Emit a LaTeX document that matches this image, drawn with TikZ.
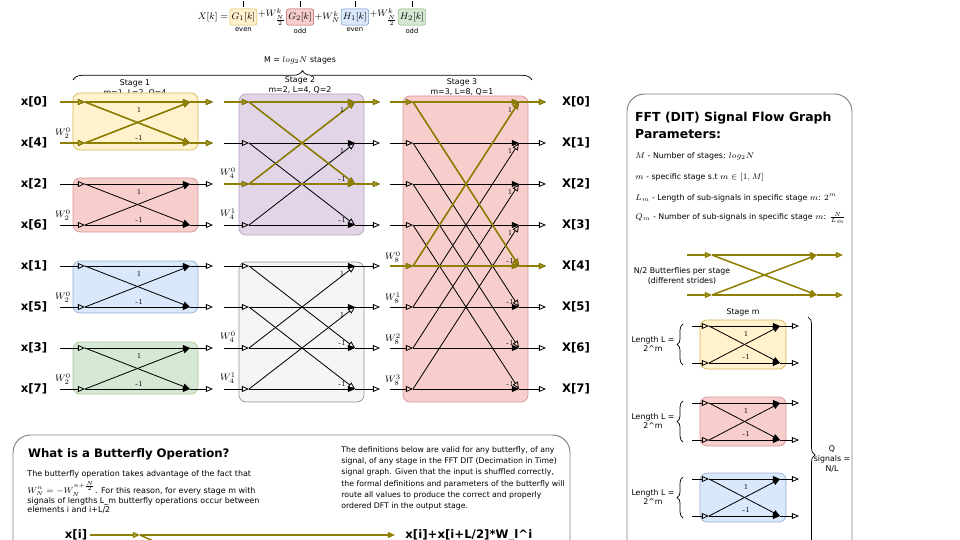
\documentclass[tikz,border=0pt]{standalone}
\usepackage[no-math]{fontspec}
\newfontfamily\sketchfont{DejaVu Sans}
\usetikzlibrary{arrows.meta,positioning,decorations.pathreplacing}
\definecolor{hlcol}{HTML}{8F7F00}
\definecolor{ylwfill}{HTML}{FFF2CC}\definecolor{ylwline}{HTML}{D6B656}
\definecolor{redfill}{HTML}{F8CECC}\definecolor{redline}{HTML}{B85450}
\definecolor{bluefill}{HTML}{DAE8FC}\definecolor{blueline}{HTML}{6C8EBF}
\definecolor{grnfill}{HTML}{D5E8D4}\definecolor{grnline}{HTML}{82B366}
\definecolor{purfill}{HTML}{E1D5E7}\definecolor{purline}{HTML}{9673A6}
\definecolor{gryfill}{HTML}{F5F5F5}\definecolor{gryline}{HTML}{666666}
\tikzset{
  stagebox/.style={rounded corners=6pt, line width=0.6pt},
  wire/.style={line width=0.7pt, black},
  hl/.style={line width=1.3pt, hlcol},
  intip/.style={-{Triangle[open,length=6pt,width=5pt]}},
  outtip/.style={-{Triangle[length=6pt,width=5pt]}},
  tip1/.style={outtip},
  tip2/.style={intip},
  tip3/.style={intip},
  sig/.style={font=\sketchfont\bfseries\fontsize{10}{12}\selectfont, inner sep=1pt},
  small/.style={font=\sketchfont\fontsize{6.7}{8.2}\selectfont, inner sep=1pt},
  title/.style={font=\sketchfont\bfseries\fontsize{10.6}{13}\selectfont, inner sep=0pt},
  gain/.style={font=\fontsize{6.5}{7.5}\selectfont, inner sep=0.5pt},
  tw/.style={font=\fontsize{8}{9}\selectfont, inner sep=0pt},
  eq/.style={font=\fontsize{8}{9}\selectfont, inner sep=0.5pt},
  term/.style n args={2}{eq, draw=#1, fill=#2, rounded corners=2pt, inner xsep=1.5pt, inner ysep=3pt},
  brace/.style={decorate, decoration={brace, amplitude=#1}, line width=0.6pt},
  brace/.default=6pt,
}
\begin{document}
\begin{tikzpicture}[x=0.03cm,y=-0.03cm]
\useasboundingbox (0,0) rectangle (960,540);
\clip (0,0) rectangle (960,540);

% decomposition of X[k]
\node[eq] (xk) at (213,17) {$X[k]=$};
\node[term={ylwline}{ylwfill}, right=0.5pt of xk] (g1) {$G_1[k]$};
\node[eq, right=0pt of g1] (w1) {$+W^k_{\frac{N}{2}}$};
\node[term={redline}{redfill}, right=0pt of w1] (g2) {$G_2[k]$};
\node[eq, right=0pt of g2] (w2) {$+W^k_N$};
\node[term={blueline}{bluefill}, right=0pt of w2] (h1) {$H_1[k]$};
\node[eq, right=0pt of h1] (w3) {$+W^k_{\frac{N}{2}}$};
\node[term={grnline}{grnfill}, right=0pt of w3] (h2) {$H_2[k]$};
\foreach \t/\w in {g1/even,g2/odd,h1/even,h2/odd} {
  \node[small, font=\sketchfont\fontsize{5.8}{7}\selectfont, below=1pt of \t] (\t-lab) {\w};
  \draw[line width=0.5pt] (\t.north) ++(0,-2) -- ++(0,-6);
}

% stages brace
\node[small] (mlab) at (300,60) {M = $log_2N$ stages};
\draw[brace=8pt] (73,80) -- (532,80);
\node[small, align=center] (st1) at (135,88) {Stage 1\\m=1, L=2, Q=4};
\node[small, align=center] (st2) at (300,85) {Stage 2\\m=2, L=4, Q=2};
\node[small, align=center] (st3) at (462,87) {Stage 3\\m=3, L=8, Q=1};

% stage boxes
\draw[stagebox, fill=ylwfill, draw=ylwline] (73,93) rectangle (198,150);
\draw[stagebox, fill=redfill, draw=redline!60] (73,178) rectangle (198,232);
\draw[stagebox, fill=bluefill, draw=blueline!70] (73,261) rectangle (198,313);
\draw[stagebox, fill=grnfill, draw=grnline!70] (73,342) rectangle (198,394);
\draw[stagebox, fill=purfill, draw=purline!70] (239,94) rectangle (364,235);
\draw[stagebox, fill=gryfill, draw=gryline!70] (239,262) rectangle (364,402);
\draw[stagebox, fill=redfill, draw=redline!60] (403,96) rectangle (528,402);

% points of every row
\foreach \r in {0,...,7} {
  \pgfmathsetmacro\yy{102+41*\r}
  \foreach \n/\xx in {a1/60,p1/85,q1/190,g1/213,a2/224,p2/249,q2/355,g2/380,a3/390,p3/413,q3/519,g3/546}
    \coordinate (\n-\r) at (\xx,\yy);
}

% inputs and outputs
\foreach \r/\i in {0/0,1/4,2/2,3/6,4/1,5/5,6/3,7/7} {
  \node[sig] (in-\r) at (34,{102+41*\r}) {x[\i]};
  \node[sig] (out-\r) at (576,{102+41*\r}) {X[\r]};
}

% plain wires
\foreach \r in {0,...,7} {
  \foreach \u/\v in {a1/p1,q1/g1,a2/p2,q2/g2,a3/p3,q3/g3}
    \draw[wire,intip] (\u-\r) -- (\v-\r);
}

% butterflies
\foreach \s/\h in {1/1,2/2,3/4} {
  \foreach \r in {0,...,7} {
    \pgfmathtruncatemacro\pp{mod(\r,2*\h)<\h ? \r+\h : \r-\h}
    \draw[wire,outtip] (p\s-\r) -- (q\s-\r);
    \draw[wire,tip\s] (p\s-\r) -- (q\s-\pp);
  }
}

% highlighted path
\foreach \u/\v in {a1-0/p1-0,a1-1/p1-1,q1-0/g1-0,q1-1/g1-1,a2-0/p2-0,a2-2/p2-2,
    q2-0/g2-0,q2-2/g2-2,a3-0/p3-0,a3-4/p3-4,q3-0/g3-0,q3-4/g3-4}
  \draw[hl,intip] (\u) -- (\v);
\foreach \u/\v in {p1-0/q1-0,p1-0/q1-1,p1-1/q1-1,p1-1/q1-0,
    p2-0/q2-0,p2-0/q2-2,p2-2/q2-2,p2-2/q2-0,
    p3-0/q3-0,p3-0/q3-4,p3-4/q3-4,p3-4/q3-0}
  \draw[hl,outtip] (\u) -- (\v);

% gains
\foreach \r in {0,2,4,6} {
  \node[gain] (s1p-\r) at (139,{102+41*\r+8}) {1};
  \node[gain] (s1m-\r) at (139,{143+41*\r-5}) {-1};
}
\foreach \r in {0,1,4,5} {
  \node[gain] (s2p-\r) at (342,{102+41*\r+8}) {1};
  \node[gain] (s2m-\r) at (342,{184+41*\r-5}) {-1};
}
\foreach \r in {0,...,3} {
  \node[gain] (s3p-\r) at (510,{102+41*\r+8}) {1};
  \node[gain] (s3m-\r) at (510,{266+41*\r-5}) {-1};
}

% twiddle factors
\foreach \r in {1,3,5,7}
  \node[tw] (tw1-\r) at (63,{102+41*\r-10}) {$W_2^0$};
\foreach \r/\k in {2/0,3/1,6/0,7/1}
  \node[tw] (tw2-\r) at (228,{102+41*\r-11}) {$W_4^\k$};
\foreach \r/\k in {4/0,5/1,6/2,7/3}
  \node[tw] (tw3-\r) at (393,{102+41*\r-9}) {$W_8^\k$};

% parameters panel
\draw[rounded corners=15pt, line width=0.8pt, draw=gray] (627,94) rectangle (852,600);
\node[title, anchor=west] (ptitle) at (635,118) {FFT (DIT) Signal Flow Graph};
\node[title, anchor=west] (ptitle2) at (635,134) {Parameters:};
\node[small, anchor=west] (pm1) at (634,156) {$M$ - Number of stages: $log_2N$};
\node[small, anchor=west] (pm2) at (634,177) {$m$ - specific stage s.t $m\in[1,M]$};
\node[small, anchor=west] (pm3) at (634,198) {$L_m$ - Length of sub-signals in specific stage $m$: $2^m$};
\node[small, anchor=west] (pm4) at (634,218) {$Q_m$ - Number of sub-signals in specific stage $m$: $\frac{N}{L_m}$};

% one butterfly per stride
\foreach \r/\yy in {0/255,1/295}
  \foreach \n/\xx in {ba/687,bp/712,bq/817,bg/843}
    \coordinate (\n-\r) at (\xx,\yy);
\foreach \r in {0,1} {
  \draw[hl,intip] (ba-\r) -- (bp-\r);
  \draw[hl,intip] (bq-\r) -- (bg-\r);
  \draw[hl,outtip] (bp-\r) -- (bq-\r);
}
\draw[hl,outtip] (bp-0) -- (bq-1);
\draw[hl,outtip] (bp-1) -- (bq-0);
\node[small, align=center, fill=white, inner sep=0.5pt] (nbfly) at (682,276) {N/2 Butterflies per stage\\(different strides)};

% stage m
\node[small] (stm) at (743,312) {Stage m};
\foreach \b/\fc/\lc/\yt in {0/ylwfill/ylwline/326,1/redfill/redline!60/403,2/bluefill/blueline!70/479} {
  \pgfmathsetmacro\yb{\yt+37}
  \draw[stagebox, fill=\fc, draw=\lc] (700,\yt-6) rectangle (786,\yb+6);
  \foreach \n/\xx in {ma/692,mp/709,mq/780,mg/799} {
    \coordinate (\n-\b-0) at (\xx,\yt);
    \coordinate (\n-\b-1) at (\xx,\yb);
  }
  \foreach \k in {0,1} {
    \draw[wire,intip] (ma-\b-\k) -- (mp-\b-\k);
    \draw[wire,intip] (mq-\b-\k) -- (mg-\b-\k);
    \draw[wire,outtip] (mp-\b-\k) -- (mq-\b-\k);
  }
  \draw[wire,outtip] (mp-\b-0) -- (mq-\b-1);
  \draw[wire,outtip] (mp-\b-1) -- (mq-\b-0);
  \node[gain] (mpl-\b) at (746,\yt+8) {1};
  \node[gain] (mml-\b) at (746,\yb-6) {-1};
  \draw[brace=5pt] (683,\yb+2) -- (683,\yt-2);
  \node[small, align=center] (len-\b) at (653,{\yt+18}) {Length L =\\2\^{}m};
}
\draw[brace=6pt] (808,317) -- (808,593);
\node[small, align=center] (qlab) at (832,459) {Q\\signals =\\N/L};

% butterfly explanation
\draw[rounded corners=15pt, line width=0.8pt, draw=gray] (13,435) rectangle (570,600);
\node[title, font=\sketchfont\bfseries\fontsize{10}{12}\selectfont, anchor=west] (btitle) at (28,454) {What is a Butterfly Operation?};
\node[small, font=\sketchfont\fontsize{6.8}{8.4}\selectfont, anchor=north west, align=left] (btext) at (26,469)
  {The butterfly operation takes advantage of the fact that\\[1.5pt]
   $W_N^n=-W_N^{n+\frac{N}{2}}$. For this reason, for every stage m with\\
   signals of lengths L\_m butterfly operations occur between\\
   elements i and i+L/2};
\node[small, font=\sketchfont\fontsize{6.6}{9.6}\selectfont, anchor=north west, align=left] (dtext) at (340,445)
  {The definitions below are valid for any butterfly, of any\\
   signal, of any stage in the FFT DIT (Decimation in Time)\\
   signal graph. Given that the input is shuffled correctly,\\
   the formal definitions and parameters of the butterfly will\\
   route all values to produce the correct and properly\\
   ordered DFT in the output stage.};
\node[sig] (xi) at (76,535) {x[i]};
\coordinate (xa) at (90,535);
\coordinate (xp) at (140,535);
\coordinate (xq) at (395,535);
\coordinate (xd) at (395,650);
\node[sig, anchor=west] (xo) at (404,535) {x[i]+x[i+L/2]*W\_l\^{}i};
\draw[hl,intip] (xa) -- (xp);
\draw[hl,outtip] (xp) -- (xq);
\draw[hl] (xp) -- (xd);
\end{tikzpicture}
\end{document}
